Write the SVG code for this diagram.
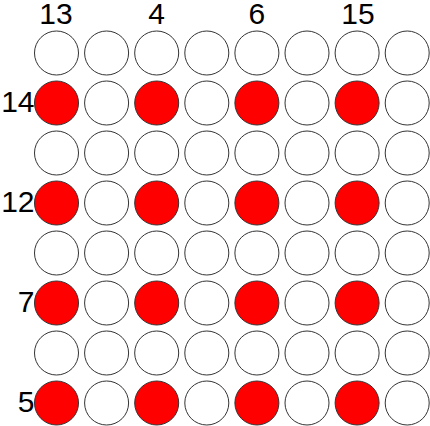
<svg xmlns="http://www.w3.org/2000/svg" width="430" height="426" viewBox="0 0 430 426">
<style>
circle{stroke:#333;stroke-width:1;fill:#fff}
.on{fill:#ff0000}
text{font-family:"Liberation Sans",Arial,sans-serif;font-size:30px;fill:#000}
.top{text-anchor:middle}
.left{text-anchor:end}
</style>
<rect width="430" height="426" fill="#fff"/>
<g id="labels">
<text class="top" x="56" y="24">13</text>
<text class="top" x="156.7" y="24">4</text>
<text class="top" x="256.9" y="24">6</text>
<text class="top" x="358" y="24">15</text>
<text class="left" x="34.5" y="112">14</text>
<text class="left" x="34.5" y="212">12</text>
<text class="left" x="34.5" y="312">7</text>
<text class="left" x="34.5" y="412">5</text>
</g>
<g id="r0"><circle cx="56.5" cy="53" r="22"/><circle cx="106.6" cy="53" r="22"/><circle cx="156.7" cy="53" r="22"/><circle cx="206.8" cy="53" r="22"/><circle cx="256.9" cy="53" r="22"/><circle cx="307" cy="53" r="22"/><circle cx="357.1" cy="53" r="22"/><circle cx="407.2" cy="53" r="22"/></g>
<g id="r1"><circle class="on" cx="56.5" cy="103" r="22"/><circle cx="106.6" cy="103" r="22"/><circle class="on" cx="156.7" cy="103" r="22"/><circle cx="206.8" cy="103" r="22"/><circle class="on" cx="256.9" cy="103" r="22"/><circle cx="307" cy="103" r="22"/><circle class="on" cx="357.1" cy="103" r="22"/><circle cx="407.2" cy="103" r="22"/></g>
<g id="r2"><circle cx="56.5" cy="153" r="22"/><circle cx="106.6" cy="153" r="22"/><circle cx="156.7" cy="153" r="22"/><circle cx="206.8" cy="153" r="22"/><circle cx="256.9" cy="153" r="22"/><circle cx="307" cy="153" r="22"/><circle cx="357.1" cy="153" r="22"/><circle cx="407.2" cy="153" r="22"/></g>
<g id="r3"><circle class="on" cx="56.5" cy="203" r="22"/><circle cx="106.6" cy="203" r="22"/><circle class="on" cx="156.7" cy="203" r="22"/><circle cx="206.8" cy="203" r="22"/><circle class="on" cx="256.9" cy="203" r="22"/><circle cx="307" cy="203" r="22"/><circle class="on" cx="357.1" cy="203" r="22"/><circle cx="407.2" cy="203" r="22"/></g>
<g id="r4"><circle cx="56.5" cy="253" r="22"/><circle cx="106.6" cy="253" r="22"/><circle cx="156.7" cy="253" r="22"/><circle cx="206.8" cy="253" r="22"/><circle cx="256.9" cy="253" r="22"/><circle cx="307" cy="253" r="22"/><circle cx="357.1" cy="253" r="22"/><circle cx="407.2" cy="253" r="22"/></g>
<g id="r5"><circle class="on" cx="56.5" cy="303" r="22"/><circle cx="106.6" cy="303" r="22"/><circle class="on" cx="156.7" cy="303" r="22"/><circle cx="206.8" cy="303" r="22"/><circle class="on" cx="256.9" cy="303" r="22"/><circle cx="307" cy="303" r="22"/><circle class="on" cx="357.1" cy="303" r="22"/><circle cx="407.2" cy="303" r="22"/></g>
<g id="r6"><circle cx="56.5" cy="353" r="22"/><circle cx="106.6" cy="353" r="22"/><circle cx="156.7" cy="353" r="22"/><circle cx="206.8" cy="353" r="22"/><circle cx="256.9" cy="353" r="22"/><circle cx="307" cy="353" r="22"/><circle cx="357.1" cy="353" r="22"/><circle cx="407.2" cy="353" r="22"/></g>
<g id="r7"><circle class="on" cx="56.5" cy="403" r="22"/><circle cx="106.6" cy="403" r="22"/><circle class="on" cx="156.7" cy="403" r="22"/><circle cx="206.8" cy="403" r="22"/><circle class="on" cx="256.9" cy="403" r="22"/><circle cx="307" cy="403" r="22"/><circle class="on" cx="357.1" cy="403" r="22"/><circle cx="407.2" cy="403" r="22"/></g>
</svg>
